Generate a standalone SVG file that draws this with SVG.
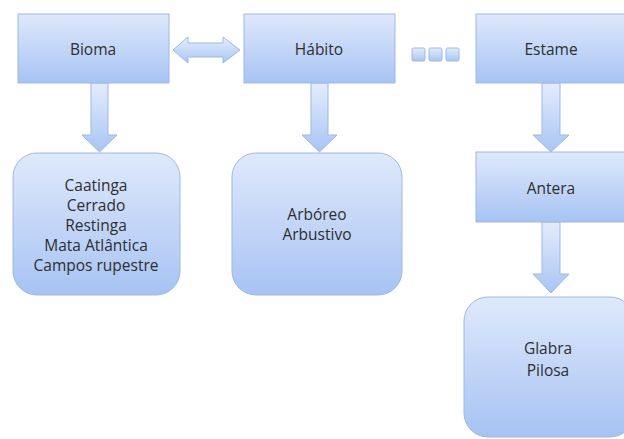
<svg xmlns="http://www.w3.org/2000/svg" width="624" height="439" viewBox="0 0 624 439">
<defs>
<linearGradient id="g" x1="0" y1="0" x2="0" y2="1">
<stop offset="0" stop-color="#dfe9fc"/>
<stop offset="1" stop-color="#a7c3f3"/>
</linearGradient>
<linearGradient id="ga" x1="0" y1="0" x2="0" y2="1">
<stop offset="0" stop-color="#e4ecfc"/>
<stop offset="1" stop-color="#a9c5f4"/>
</linearGradient>
<linearGradient id="gh" x1="0" y1="0" x2="0" y2="1">
<stop offset="0" stop-color="#e6eefd"/>
<stop offset="1" stop-color="#a9c5f4"/>
</linearGradient>
</defs>
<style>
.n{fill:url(#g);stroke:#9db8e7;stroke-width:1}
.a{fill:url(#ga);stroke:#9db8e7;stroke-width:1}
.t{font-family:"Open Sans","Liberation Sans",sans-serif;font-size:15.5px;fill:#2e2e2e;text-anchor:middle;dominant-baseline:central}
</style>
<rect width="624" height="439" fill="#fff"/>
<g id="connectors">
<path class="a" d="M91,83 H108 V135 H117 L99.5,152 L82,135 H91 Z"/>
<path class="a" d="M311,83 H328 V135 H337 L319.5,152 L302,135 H311 Z"/>
<path class="a" d="M542,83 H560 V135 H569 L551,152 L533,135 H542 Z"/>
<path class="a" d="M542,222 H560 V274 H569 L551,293 L533,274 H542 Z"/>
<path style="fill:url(#gh);stroke:#9db8e7;stroke-width:1" d="M173,50 L188,37 V43 H223 V37 L240,50 L223,63 V57 H188 V63 Z"/>
<rect class="a" x="412" y="48" width="13" height="13" rx="1.5"/>
<rect class="a" x="429" y="48" width="13" height="13" rx="1.5"/>
<rect class="a" x="446" y="48" width="13" height="13" rx="1.5"/>
</g>
<g id="bioma">
<rect class="n" x="18" y="14" width="151" height="69"/>
<text class="t" x="93" y="49">Bioma</text>
</g>
<g id="habito">
<rect class="n" x="244" y="14" width="151" height="69"/>
<text class="t" x="319" y="49">Hábito</text>
</g>
<g id="estame">
<rect class="n" x="476" y="14" width="152" height="69"/>
<text class="t" x="551" y="49">Estame</text>
</g>
<g id="biomas">
<rect class="n" x="13" y="153" width="167" height="142" rx="24"/>
<text class="t" x="96" y="185">Caatinga</text>
<text class="t" x="96" y="205">Cerrado</text>
<text class="t" x="96" y="225">Restinga</text>
<text class="t" x="96" y="245">Mata Atlântica</text>
<text class="t" x="96" y="265">Campos rupestre</text>
</g>
<g id="habitos">
<rect class="n" x="232" y="153" width="170" height="142" rx="24"/>
<text class="t" x="317" y="214">Arbóreo</text>
<text class="t" x="317" y="234">Arbustivo</text>
</g>
<g id="antera">
<rect class="n" x="476" y="152" width="152" height="70"/>
<text class="t" x="551" y="188">Antera</text>
</g>
<g id="antera-tipos">
<rect class="n" x="464" y="297" width="170" height="140" rx="24"/>
<text class="t" x="548" y="348">Glabra</text>
<text class="t" x="548" y="370">Pilosa</text>
</g>
</svg>
